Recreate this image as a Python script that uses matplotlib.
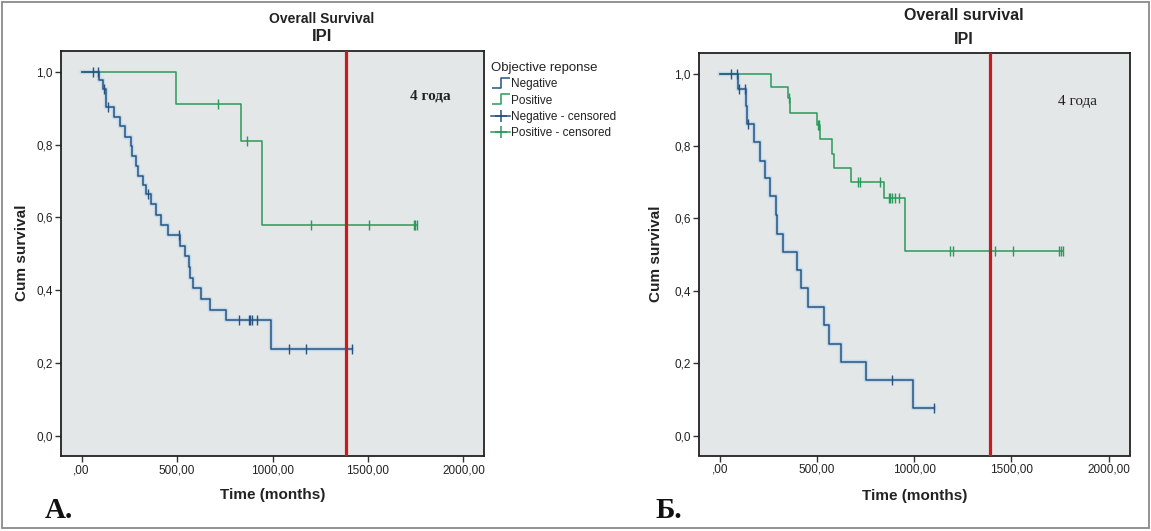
import numpy as np
import matplotlib
matplotlib.use('Agg')
import matplotlib.pyplot as plt
from matplotlib.lines import Line2D
from matplotlib.patches import Rectangle
from matplotlib.path import Path

# ---- data ----
# panel A
a_neg_t = [90, 111, 128, 172, 200, 228, 257, 264, 284, 294, 319, 335, 362, 390, 415,
           450, 513, 539, 560, 568, 583, 623, 670, 754, 993]
a_neg_s = [0.977, 0.952, 0.902, 0.876, 0.850, 0.822, 0.795, 0.768, 0.742, 0.715, 0.689,
           0.663, 0.636, 0.608, 0.580, 0.552, 0.522, 0.493, 0.463, 0.434, 0.405, 0.376,
           0.347, 0.318, 0.238]
a_neg_cens = [58, 88, 118, 136, 346, 509, 824, 876, 883, 895, 919, 1089, 1177, 1419]
a_pos_t = [497, 837, 947]
a_pos_s = [0.911, 0.809, 0.578]
a_pos_cens = [712, 864, 1202, 1506, 1740, 1748, 1756]

# panel Б
b_neg_t = [93, 133, 140, 176, 206, 232, 258, 287, 293, 324, 397, 415, 455, 537, 559,
           624, 754, 993]
b_neg_s = [0.958, 0.910, 0.862, 0.812, 0.759, 0.712, 0.661, 0.609, 0.558, 0.507, 0.457,
           0.407, 0.355, 0.306, 0.254, 0.203, 0.153, 0.077]
b_neg_cens = [57, 90, 96, 127, 142, 885, 1103]
b_pos_t = [261, 348, 362, 498, 516, 577, 585, 676, 843, 951]
b_pos_s = [0.964, 0.932, 0.892, 0.857, 0.820, 0.778, 0.740, 0.700, 0.656, 0.509]
b_pos_cens = [354, 505, 510, 711, 723, 824, 868, 876, 885, 899, 923, 1185, 1199, 1416,
              1509, 1747, 1756, 1765]

four_years = [1385, 1390]
xticks = [0, 500, 1000, 1500, 2000]
xtick_labels = [',00', '500,00', '1000,00', '1500,00', '2000,00']
yticks = [0.0, 0.2, 0.4, 0.6, 0.8, 1.0]
ytick_labels = ['0,0', '0,2', '0,4', '0,6', '0,8', '1,0']

NEG = '#27527e'
NEG_HALO = '#b3d1ec'
POS = '#2a9a5a'
RED = '#c81b1f'
BG = '#e4e7e7'
SANS = ['Liberation Sans', 'DejaVu Sans']
SERIF = ['Liberation Serif', 'DejaVu Serif']


def km(ax, times, surv, cens, color, halo=None):
    t = np.concatenate([[0], times])
    s = np.concatenate([[1.0], surv])
    t_end = max(max(cens), t[-1])
    tt = np.append(t, t_end)
    ss = np.append(s, s[-1])
    if halo:
        ax.step(tt, ss, where='post', color=halo, lw=3.2, alpha=0.7, zorder=2)
    ax.step(tt, ss, where='post', color=color, lw=1.1, zorder=3)
    idx = np.searchsorted(t, cens, side='right') - 1
    ax.plot(cens, s[idx], ls='none', marker='|', ms=6.5, mew=1.0, color=color, zorder=4)


def panel(rect, neg, pos, red_x):
    ax = fig.add_axes(rect)
    ax.set_facecolor(BG)
    km(ax, *pos, POS)
    km(ax, *neg, NEG, halo=NEG_HALO)
    ax.axvline(red_x, color=RED, lw=2.3, zorder=5)
    ax.set_xlim(-108, 2108)
    ax.set_ylim(-0.055, 1.057)
    ax.set_xticks(xticks)
    ax.set_xticklabels(xtick_labels)
    ax.set_yticks(yticks)
    ax.set_yticklabels(ytick_labels)
    ax.tick_params(direction='out', length=4, width=1, color='#333333',
                   labelsize=8.5, labelcolor='#222222', pad=2)
    for lab in ax.get_xticklabels() + ax.get_yticklabels():
        lab.set_family(SANS)
    for sp in ax.spines.values():
        sp.set_color('#222222')
        sp.set_linewidth(1.3)
    return ax


fig = plt.figure(figsize=(11.51, 5.31), dpi=100)
W, H = 1151, 531

axA = panel([61 / W, 1 - 456 / H, (484 - 61) / W, (456 - 51) / H],
            (a_neg_t, a_neg_s, a_neg_cens), (a_pos_t, a_pos_s, a_pos_cens), four_years[0])
axB = panel([699 / W, 1 - 455.5 / H, (1129.5 - 699) / W, (455.5 - 53) / H],
            (b_neg_t, b_neg_s, b_neg_cens), (b_pos_t, b_pos_s, b_pos_cens), four_years[1])

axA.text(1828, 0.933, '4 года', ha='center', va='center', fontsize=11,
         family=SERIF, fontweight='bold', color='#222222')
axB.text(1842, 0.922, '4 года', ha='center', va='center', fontsize=11,
         family=SERIF, color='#222222')

# titles
fig.text(322 / W, 1 - 18.6 / H, 'Overall Survival', ha='center', va='center',
         fontsize=10, fontweight='bold', family=SANS, color='#222222')
fig.text(322 / W, 1 - 36.5 / H, 'IPI', ha='center', va='center',
         fontsize=12, fontweight='bold', family=SANS, color='#222222')
fig.text(964 / W, 1 - 16 / H, 'Overall survival', ha='center', va='center',
         fontsize=11.5, fontweight='bold', family=SANS, color='#222222')
fig.text(964 / W, 1 - 39.6 / H, 'IPI', ha='center', va='center',
         fontsize=11.5, fontweight='bold', family=SANS, color='#222222')

# axis labels
for x, y in [(22, 253), (656, 254)]:
    fig.text(x / W, 1 - y / H, 'Cum survival', rotation=90, ha='center', va='center',
             fontsize=11, fontweight='bold', family=SANS, color='#222222')
for x, y in [(273, 495), (915, 496)]:
    fig.text(x / W, 1 - y / H, 'Time (months)', ha='center', va='center',
             fontsize=11, fontweight='bold', family=SANS, color='#222222')

# panel letters
fig.text(45 / W, 1 - 511 / H, 'A.', ha='left', va='center', fontsize=21,
         fontweight='bold', family=SERIF, color='#111111')
fig.text(655 / W, 1 - 511 / H, 'Б.', ha='left', va='center', fontsize=21,
         fontweight='bold', family=SERIF, color='#111111')

# legend (panel A only)
step_marker = Path([(-1, -0.5), (0, -0.5), (0, 0.5), (1, 0.5)],
                   [Path.MOVETO, Path.LINETO, Path.LINETO, Path.LINETO])
handles = [
    Line2D([], [], ls='none', marker=step_marker, ms=13, mfc='none', mec=NEG, mew=1.1),
    Line2D([], [], ls='none', marker=step_marker, ms=13, mfc='none', mec=POS, mew=1.1),
    Line2D([], [], color=NEG, lw=1.1, marker='+', ms=9, mew=1.1),
    Line2D([], [], color=POS, lw=1.1, marker='+', ms=9, mew=1.1),
]
labels = ['Negative', 'Positive', 'Negative - censored', 'Positive - censored']
leg = fig.legend(handles, labels, loc='upper left', bbox_to_anchor=(483 / W, 1 - 54 / H),
                 frameon=False, title='Objective reponse', fontsize=8.5,
                 title_fontsize=9.5, handlelength=1.6, handletextpad=0.1,
                 labelspacing=0.35, borderpad=0.2, numpoints=1,
                 alignment='left', prop={'family': SANS, 'size': 8.5})
leg.get_title().set_family(SANS)
leg.get_title().set_color('#222222')
for txt in leg.get_texts():
    txt.set_color('#222222')

# outer frame
fig.patches.append(Rectangle((2 / W, 3 / H), 1147 / W, 526 / H, transform=fig.transFigure,
                             fill=False, ec='#8a8a8a', lw=1.3))

fig.savefig('out.png', dpi=100)
